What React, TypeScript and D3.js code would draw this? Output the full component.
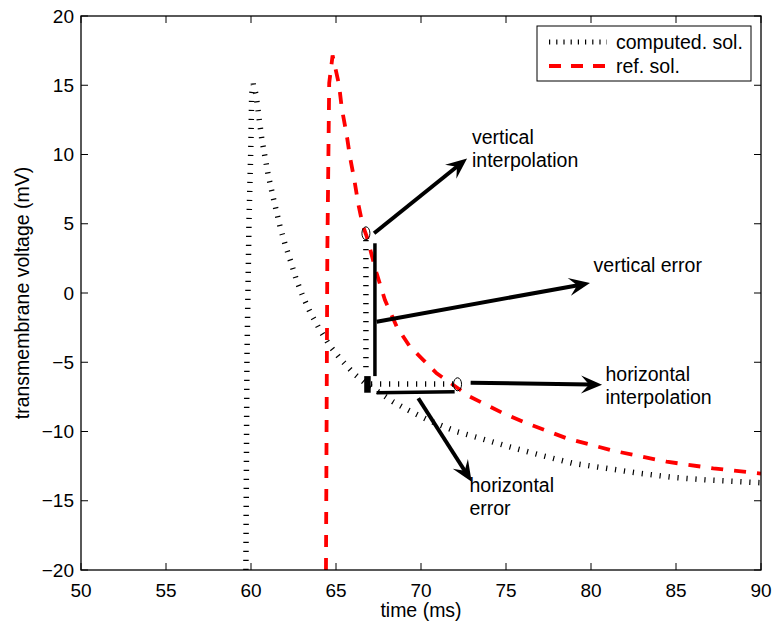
import React from "react";
import * as d3 from "d3";

// ---------- data ----------
const compT = [59.70, 59.76, 59.88, 60.0, 60.04, 60.13, 60.29, 60.63, 61.0, 61.34, 61.71, 62.0, 62.34, 62.65, 63.04, 63.47, 64.0, 64.6, 65.28, 66.08, 66.75, 67.59, 68.35, 69.24, 70.41, 71.12, 72.1, 73.47, 75.04, 77.0, 78.94, 80.92, 82.88, 84.82, 86.81, 88.76, 90.0];
const compV = [-20, -5, 5, 11, 14.37, 15.1, 14.37, 11.17, 8.59, 6.71, 4.78, 3.54, 2.26, 1.03, -0.22, -1.37, -2.55, -3.75, -4.79, -5.85, -6.55, -7.22, -7.85, -8.45, -9.17, -9.53, -10.01, -10.49, -11.05, -11.70, -12.30, -12.66, -13.02, -13.31, -13.50, -13.62, -13.70];

const refT = [64.41, 64.49, 64.60, 64.80, 65.18, 65.34, 65.63, 65.82, 66.08, 66.31, 66.57, 66.81, 67.39, 67.88, 68.57, 69.35, 70.14, 70.92, 71.90, 72.88, 74.84, 76.22, 78.57, 81.31, 84.45, 87.19, 90.0];
const refV = [-20, 2.89, 15.16, 17.15, 15.02, 13.34, 11.41, 9.84, 8.16, 6.43, 4.91, 4.07, 1.42, -0.51, -2.43, -3.88, -4.84, -5.80, -6.64, -7.49, -8.69, -9.41, -10.49, -11.39, -12.18, -12.66, -13.04];

const xTicks = [50, 55, 60, 65, 70, 75, 80, 85, 90];
const yTicks = [20, 15, 10, 5, 0, -5, -10, -15, -20];

// annotation geometry in data units: [t1, v1, t2, v2]
const dottedSegs = [
  [66.76, 3.83, 66.76, -5.75],
  [67.06, -6.57, 71.94, -6.57],
];
const thickSegs = [
  [67.29, 3.59, 67.29, -6.0],
  [67.39, -7.2, 71.98, -7.13],
];
const blockSeg = [66.85, -6.0, 66.85, -7.2];
const ellipses = [
  [66.76, 4.31],
  [72.15, -6.59],
];
const arrows = [
  [67.24, 4.31, 72.71, 9.71],
  [67.39, -2.07, 79.94, 0.72],
  [72.92, -6.48, 80.65, -6.62],
  [69.84, -7.6, 72.98, -13.62],
];
const labelLines = [
  { t: 73.0, v: 10.75, text: "vertical" },
  { t: 73.0, v: 9.1, text: "interpolation" },
  { t: 80.15, v: 1.55, text: "vertical error" },
  { t: 80.85, v: -6.35, text: "horizontal" },
  { t: 80.85, v: -8.0, text: "interpolation" },
  { t: 72.85, v: -14.34, text: "horizontal" },
  { t: 72.85, v: -16.0, text: "error" },
];
const legendItems = ["computed. sol.", "ref. sol."];

// ---------- layout ----------
const W = 776, H = 628;
const L = 81, R = 761, T = 16, B = 570;
const FONT = "'Liberation Sans', Arial, Helvetica, sans-serif";
const FS = 19.5;
const TFS = 19;

export default function App() {
  const x = d3.scaleLinear().domain([50, 90]).range([L, R]);
  const y = d3.scaleLinear().domain([-20, 20]).range([B, T]);
  const line = d3.line<[number, number]>().x((d) => x(d[0])).y((d) => y(d[1]));

  const comp = compT.map((t, i) => [t, compV[i]] as [number, number]);
  const ref = refT.map((t, i) => [t, refV[i]] as [number, number]);

  const dotted = { stroke: "#000", strokeWidth: 5.5, strokeDasharray: "1.2 7.8", fill: "none" };

  const arrowEls = arrows.map((a, i) => {
    const x1 = x(a[0]), y1 = y(a[1]), x2 = x(a[2]), y2 = y(a[3]);
    const dx = x2 - x1, dy = y2 - y1;
    const len = Math.hypot(dx, dy);
    const ux = dx / len, uy = dy / len;
    const px = -uy, py = ux;
    const HL = 21, HW = 9, NOTCH = 13;
    const bx = x2 - ux * HL, by = y2 - uy * HL;
    const nx = x2 - ux * NOTCH, ny = y2 - uy * NOTCH;
    const pts = [
      [x2, y2],
      [bx + px * HW, by + py * HW],
      [nx, ny],
      [bx - px * HW, by - py * HW],
    ];
    return (
      <g key={i}>
        <line x1={x1} y1={y1} x2={nx + ux * 1} y2={ny + uy * 1} stroke="#000" strokeWidth={4} />
        <polygon points={pts.map((p) => p.join(",")).join(" ")} fill="#000" />
      </g>
    );
  });

  return (
    <svg width={W} height={H} style={{ position: "absolute", left: 0, top: 0, background: "#fff" }} fontFamily={FONT}>
      <rect x={0} y={0} width={W} height={H} fill="#fff" />
      <defs>
        <clipPath id="plot">
          <rect x={L} y={T} width={R - L} height={B - T} />
        </clipPath>
      </defs>

      <g clipPath="url(#plot)">
        <path d={line(comp) || ""} {...dotted} />
        <path d={line(ref) || ""} fill="none" stroke="#ff0000" strokeWidth={3.8} strokeDasharray="12 11" />

        {dottedSegs.map((s, i) => (
          <line key={i} x1={x(s[0])} y1={y(s[1])} x2={x(s[2])} y2={y(s[3])} {...dotted} />
        ))}
        {thickSegs.map((s, i) => (
          <line key={i} x1={x(s[0])} y1={y(s[1])} x2={x(s[2])} y2={y(s[3])} stroke="#000" strokeWidth={3.5} />
        ))}
        <line x1={x(blockSeg[0])} y1={y(blockSeg[1])} x2={x(blockSeg[2])} y2={y(blockSeg[3])} stroke="#000" strokeWidth={6.5} />
        {ellipses.map((e, i) => (
          <ellipse key={i} cx={x(e[0])} cy={y(e[1])} rx={4} ry={6.5} fill="none" stroke="#000" strokeWidth={1} />
        ))}
        {arrowEls}
      </g>

      {labelLines.map((l, i) => (
        <text key={i} x={x(l.t)} y={y(l.v)} fontSize={FS} fill="#000">{l.text}</text>
      ))}

      {/* axes box */}
      <rect x={L} y={T} width={R - L} height={B - T} fill="none" stroke="#000" strokeWidth={1.3} />
      {xTicks.map((t) => (
        <g key={"x" + t}>
          <line x1={x(t)} x2={x(t)} y1={B} y2={B - 7} stroke="#000" strokeWidth={1} />
          <line x1={x(t)} x2={x(t)} y1={T} y2={T + 7} stroke="#000" strokeWidth={1} />
          <text x={x(t)} y={B + 27} fontSize={TFS} textAnchor="middle">{t}</text>
        </g>
      ))}
      {yTicks.map((v) => (
        <g key={"y" + v}>
          <line x1={L} x2={L + 7} y1={y(v)} y2={y(v)} stroke="#000" strokeWidth={1} />
          <line x1={R} x2={R - 7} y1={y(v)} y2={y(v)} stroke="#000" strokeWidth={1} />
          <text x={L - 7} y={y(v) + 6.7} fontSize={TFS} textAnchor="end">{v < 0 ? "\u2212" + Math.abs(v) : String(v)}</text>
        </g>
      ))}
      <text x={(L + R) / 2} y={617} fontSize={FS} textAnchor="middle">time (ms)</text>
      <text transform={`translate(29,${(T + B) / 2}) rotate(-90)`} fontSize={FS} textAnchor="middle">transmembrane voltage (mV)</text>

      {/* legend */}
      <rect x={537} y={26} width={214} height={55} fill="#fff" stroke="#000" strokeWidth={1} />
      <line x1={549} x2={607} y1={42} y2={42} stroke="#000" strokeWidth={5} strokeDasharray="1.2 6" />
      <line x1={549} x2={607} y1={66} y2={66} stroke="#ff0000" strokeWidth={3.8} strokeDasharray="12 10" />
      <text x={616} y={49} fontSize={FS}>{legendItems[0]}</text>
      <text x={616} y={73} fontSize={FS}>{legendItems[1]}</text>
    </svg>
  );
}
